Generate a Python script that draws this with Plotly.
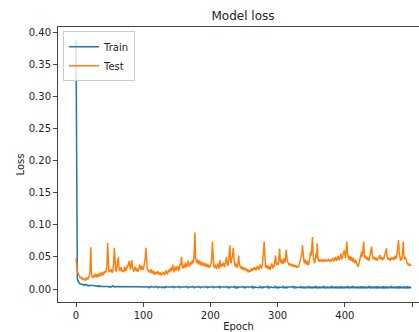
import plotly.graph_objects as go

epochs = list(range(500))

train_loss = [
    0.388, 0.030, 0.016, 0.012, 0.010, 0.009, 0.008, 0.008, 0.007, 0.007, 0.007, 0.006, 0.007, 0.006, 0.006, 0.007, 0.006, 0.006, 0.005, 0.006,
    0.006, 0.005, 0.006, 0.005, 0.006, 0.005, 0.005, 0.006, 0.005, 0.005, 0.004, 0.005, 0.005, 0.004, 0.005, 0.004, 0.005, 0.004, 0.004, 0.005,
    0.004, 0.004, 0.005, 0.004, 0.004, 0.004, 0.005, 0.004, 0.004, 0.003, 0.004, 0.004, 0.003, 0.004, 0.004, 0.005, 0.004, 0.003, 0.004, 0.004,
    0.003, 0.004, 0.003, 0.004, 0.004, 0.003, 0.004, 0.003, 0.003, 0.004, 0.003, 0.004, 0.003, 0.003, 0.004, 0.003, 0.003, 0.004, 0.003, 0.003,
    0.004, 0.003, 0.003, 0.003, 0.004, 0.003, 0.003, 0.004, 0.003, 0.003, 0.003, 0.004, 0.003, 0.003, 0.003, 0.004, 0.003, 0.003, 0.004, 0.003,
    0.003, 0.003, 0.004, 0.003, 0.003, 0.003, 0.004, 0.003, 0.003, 0.002, 0.003, 0.003, 0.004, 0.003, 0.003, 0.003, 0.002, 0.003, 0.003, 0.004,
    0.003, 0.003, 0.002, 0.003, 0.003, 0.003, 0.004, 0.003, 0.002, 0.003, 0.003, 0.003, 0.002, 0.003, 0.004, 0.003, 0.003, 0.002, 0.003, 0.003,
    0.003, 0.002, 0.003, 0.003, 0.004, 0.003, 0.002, 0.003, 0.003, 0.003, 0.002, 0.003, 0.003, 0.004, 0.003, 0.002, 0.003, 0.003, 0.003, 0.002,
    0.003, 0.003, 0.002, 0.003, 0.004, 0.003, 0.003, 0.002, 0.003, 0.003, 0.003, 0.002, 0.003, 0.004, 0.003, 0.003, 0.002, 0.003, 0.003, 0.003,
    0.002, 0.003, 0.003, 0.004, 0.003, 0.002, 0.003, 0.003, 0.003, 0.002, 0.003, 0.003, 0.002, 0.003, 0.004, 0.003, 0.002, 0.003, 0.003, 0.002,
    0.003, 0.002, 0.003, 0.004, 0.003, 0.002, 0.003, 0.003, 0.002, 0.003, 0.003, 0.002, 0.003, 0.004, 0.002, 0.003, 0.003, 0.002, 0.003, 0.002,
    0.003, 0.003, 0.002, 0.003, 0.004, 0.003, 0.002, 0.003, 0.002, 0.003, 0.003, 0.002, 0.003, 0.003, 0.002, 0.003, 0.004, 0.002, 0.003, 0.002,
    0.003, 0.002, 0.003, 0.003, 0.002, 0.003, 0.002, 0.003, 0.004, 0.003, 0.002, 0.003, 0.002, 0.003, 0.003, 0.002, 0.003, 0.002, 0.003, 0.003,
    0.002, 0.003, 0.004, 0.002, 0.003, 0.002, 0.003, 0.003, 0.002, 0.003, 0.002, 0.003, 0.003, 0.002, 0.004, 0.003, 0.002, 0.003, 0.002, 0.003,
    0.003, 0.002, 0.003, 0.002, 0.003, 0.004, 0.002, 0.003, 0.002, 0.003, 0.003, 0.002, 0.003, 0.002, 0.003, 0.002, 0.004, 0.003, 0.002, 0.003,
    0.002, 0.003, 0.002, 0.003, 0.003, 0.002, 0.003, 0.002, 0.004, 0.003, 0.002, 0.003, 0.002, 0.003, 0.002, 0.003, 0.003, 0.002, 0.003, 0.002,
    0.003, 0.002, 0.003, 0.004, 0.002, 0.003, 0.002, 0.003, 0.002, 0.003, 0.003, 0.002, 0.003, 0.002, 0.004, 0.003, 0.002, 0.003, 0.002, 0.003,
    0.002, 0.003, 0.002, 0.003, 0.003, 0.002, 0.004, 0.003, 0.002, 0.003, 0.002, 0.003, 0.002, 0.003, 0.002, 0.003, 0.004, 0.002, 0.003, 0.002,
    0.003, 0.002, 0.003, 0.002, 0.003, 0.003, 0.002, 0.003, 0.004, 0.002, 0.003, 0.002, 0.003, 0.002, 0.003, 0.002, 0.003, 0.003, 0.002, 0.003,
    0.002, 0.004, 0.003, 0.002, 0.003, 0.002, 0.003, 0.002, 0.003, 0.002, 0.003, 0.003, 0.002, 0.004, 0.002, 0.003, 0.002, 0.003, 0.002, 0.003,
    0.002, 0.003, 0.002, 0.003, 0.004, 0.002, 0.003, 0.002, 0.003, 0.002, 0.003, 0.002, 0.004, 0.003, 0.002, 0.003, 0.002, 0.003, 0.002, 0.003,
    0.002, 0.003, 0.002, 0.003, 0.002, 0.004, 0.002, 0.003, 0.002, 0.003, 0.002, 0.003, 0.002, 0.003, 0.002, 0.003, 0.004, 0.002, 0.003, 0.002,
    0.003, 0.002, 0.003, 0.002, 0.003, 0.002, 0.003, 0.002, 0.004, 0.002, 0.003, 0.002, 0.003, 0.002, 0.003, 0.002, 0.003, 0.002, 0.004, 0.002,
    0.003, 0.002, 0.003, 0.002, 0.003, 0.002, 0.003, 0.002, 0.003, 0.004, 0.002, 0.003, 0.002, 0.003, 0.002, 0.003, 0.002, 0.003, 0.002, 0.003,
    0.002, 0.004, 0.002, 0.003, 0.002, 0.003, 0.002, 0.003, 0.002, 0.003, 0.002, 0.003, 0.002, 0.004, 0.002, 0.003, 0.002, 0.003, 0.002, 0.002,
]

test_loss = [
    0.048, 0.035, 0.028, 0.025, 0.022, 0.020, 0.018, 0.017, 0.019, 0.016, 0.015, 0.017, 0.014, 0.016, 0.013, 0.018, 0.015, 0.017, 0.016, 0.019,
    0.021, 0.030, 0.065, 0.025, 0.018, 0.020, 0.017, 0.022, 0.019, 0.024, 0.020, 0.018, 0.023, 0.021, 0.019, 0.025, 0.022, 0.020, 0.026, 0.023,
    0.021, 0.027, 0.024, 0.028, 0.025, 0.030, 0.035, 0.072, 0.032, 0.026, 0.029, 0.027, 0.031, 0.028, 0.025, 0.030, 0.040, 0.064, 0.035, 0.030,
    0.027, 0.033, 0.038, 0.050, 0.032, 0.028, 0.031, 0.034, 0.029, 0.027, 0.030, 0.026, 0.032, 0.035, 0.028, 0.030, 0.033, 0.038, 0.036, 0.044,
    0.034, 0.030, 0.038, 0.045, 0.033, 0.029, 0.027, 0.031, 0.035, 0.030, 0.028, 0.032, 0.027, 0.030, 0.034, 0.038, 0.033, 0.029, 0.036, 0.032,
    0.030, 0.035, 0.040, 0.048, 0.064, 0.038, 0.032, 0.028, 0.030, 0.026, 0.029, 0.025, 0.031, 0.027, 0.024, 0.028, 0.025, 0.022, 0.027, 0.024,
    0.026, 0.023, 0.028, 0.025, 0.022, 0.026, 0.024, 0.021, 0.025, 0.023, 0.027, 0.024, 0.022, 0.026, 0.029, 0.025, 0.023, 0.027, 0.030, 0.026,
    0.029, 0.033, 0.028, 0.031, 0.038, 0.030, 0.026, 0.032, 0.035, 0.029, 0.033, 0.036, 0.031, 0.028, 0.034, 0.040, 0.037, 0.050, 0.036, 0.032,
    0.035, 0.038, 0.033, 0.041, 0.036, 0.034, 0.039, 0.044, 0.037, 0.035, 0.040, 0.042, 0.038, 0.045, 0.040, 0.043, 0.060, 0.088, 0.048, 0.042,
    0.040, 0.046, 0.041, 0.038, 0.044, 0.040, 0.037, 0.042, 0.039, 0.036, 0.041, 0.038, 0.035, 0.040, 0.037, 0.034, 0.039, 0.036, 0.033, 0.037,
    0.035, 0.040, 0.048, 0.074, 0.042, 0.036, 0.033, 0.038, 0.034, 0.031, 0.036, 0.040, 0.035, 0.032, 0.045, 0.038, 0.034, 0.039, 0.036, 0.041,
    0.037, 0.034, 0.040, 0.044, 0.050, 0.039, 0.036, 0.042, 0.055, 0.068, 0.045, 0.040, 0.048, 0.052, 0.064, 0.044, 0.038, 0.035, 0.040, 0.036,
    0.033, 0.038, 0.052, 0.040, 0.035, 0.032, 0.036, 0.033, 0.030, 0.034, 0.031, 0.029, 0.033, 0.030, 0.028, 0.031, 0.026, 0.028, 0.030, 0.027,
    0.029, 0.032, 0.028, 0.031, 0.033, 0.030, 0.034, 0.031, 0.029, 0.033, 0.036, 0.032, 0.030, 0.034, 0.038, 0.035, 0.032, 0.036, 0.045, 0.058,
    0.074, 0.042, 0.035, 0.033, 0.037, 0.034, 0.031, 0.036, 0.033, 0.030, 0.035, 0.040, 0.036, 0.032, 0.038, 0.035, 0.045, 0.052, 0.040, 0.037,
    0.041, 0.038, 0.050, 0.063, 0.044, 0.040, 0.046, 0.042, 0.039, 0.044, 0.048, 0.041, 0.055, 0.061, 0.046, 0.042, 0.039, 0.037, 0.040, 0.038,
    0.036, 0.039, 0.037, 0.035, 0.038, 0.036, 0.034, 0.037, 0.035, 0.033, 0.036, 0.034, 0.038, 0.042, 0.045, 0.048, 0.055, 0.068, 0.050, 0.044,
    0.040, 0.046, 0.042, 0.038, 0.044, 0.041, 0.037, 0.043, 0.048, 0.058, 0.052, 0.065, 0.081, 0.050, 0.044, 0.040, 0.046, 0.055, 0.048, 0.071,
    0.048, 0.043, 0.046, 0.044, 0.045, 0.043, 0.046, 0.044, 0.045, 0.043, 0.044, 0.046, 0.045, 0.043, 0.045, 0.044, 0.046, 0.045, 0.043, 0.045,
    0.044, 0.046, 0.048, 0.045, 0.043, 0.047, 0.050, 0.046, 0.044, 0.048, 0.052, 0.047, 0.045, 0.049, 0.055, 0.050, 0.046, 0.052, 0.058, 0.060,
    0.054, 0.048, 0.062, 0.074, 0.055, 0.050, 0.046, 0.052, 0.048, 0.044, 0.050, 0.046, 0.042, 0.048, 0.044, 0.040, 0.045, 0.041, 0.038, 0.036,
    0.035, 0.039, 0.044, 0.048, 0.052, 0.058, 0.050, 0.062, 0.074, 0.055, 0.048, 0.052, 0.046, 0.050, 0.045, 0.049, 0.044, 0.050, 0.056, 0.060,
    0.066, 0.052, 0.047, 0.050, 0.046, 0.049, 0.045, 0.048, 0.044, 0.047, 0.050, 0.048, 0.053, 0.046, 0.050, 0.047, 0.045, 0.049, 0.046, 0.052,
    0.055, 0.058, 0.063, 0.050, 0.046, 0.049, 0.045, 0.048, 0.044, 0.047, 0.050, 0.046, 0.049, 0.045, 0.048, 0.052, 0.047, 0.050, 0.058, 0.066,
    0.076, 0.055, 0.048, 0.044, 0.050, 0.046, 0.058, 0.074, 0.052, 0.046, 0.050, 0.045, 0.042, 0.040, 0.038, 0.039, 0.037, 0.038, 0.037, 0.037,
]

y_ticks = [0.00, 0.05, 0.10, 0.15, 0.20, 0.25, 0.30, 0.35, 0.40]
x_ticks = [0, 100, 200, 300, 400, 500]

FONT = "DejaVu Sans"
TXT = "#222222"
AX = "#444444"

fig = go.Figure()
fig.add_trace(go.Scatter(x=epochs, y=train_loss, mode="lines", name="Train",
                         line=dict(color="#1f77b4", width=1.5)))
fig.add_trace(go.Scatter(x=epochs, y=test_loss, mode="lines", name="Test",
                         line=dict(color="#ff7f0e", width=1.5)))

fig.update_layout(
    width=419, height=332,
    margin=dict(l=58, r=0, t=27, b=30),
    paper_bgcolor="white", plot_bgcolor="white",
    font=dict(family=FONT, size=10, color=TXT),
    title=dict(text="Model loss", x=243 / 419, xanchor="center", y=1 - 16 / 332, yanchor="middle",
               font=dict(family=FONT, size=12, color=TXT)),
    showlegend=True,
    legend=dict(x=0.014, y=0.985, xanchor="left", yanchor="top",
                bgcolor="rgba(255,255,255,0.8)", bordercolor="#cccccc", borderwidth=1,
                font=dict(family=FONT, size=10, color=TXT), itemwidth=30,
                tracegroupgap=0),
    xaxis=dict(range=[-26.8, 510.4], tickvals=x_ticks, ticktext=[str(v) for v in x_ticks],
               showgrid=False, zeroline=False, showline=True, linecolor=AX, linewidth=1,
               mirror=True, ticks="outside", ticklen=4, tickcolor=AX, tickwidth=1,
               tickfont=dict(family=FONT, size=10, color=TXT),
               title=dict(text="Epoch", standoff=2, font=dict(family=FONT, size=10, color=TXT))),
    yaxis=dict(range=[-0.0202, 0.4078], tickvals=y_ticks, ticktext=["%.2f" % v for v in y_ticks],
               showgrid=False, zeroline=False, showline=True, linecolor=AX, linewidth=1,
               mirror=False, ticks="outside", ticklen=4, tickcolor=AX, tickwidth=1,
               tickfont=dict(family=FONT, size=10, color=TXT),
               title=dict(text="Loss", standoff=2, font=dict(family=FONT, size=10, color=TXT))),
)

fig.write_html("out.html")
